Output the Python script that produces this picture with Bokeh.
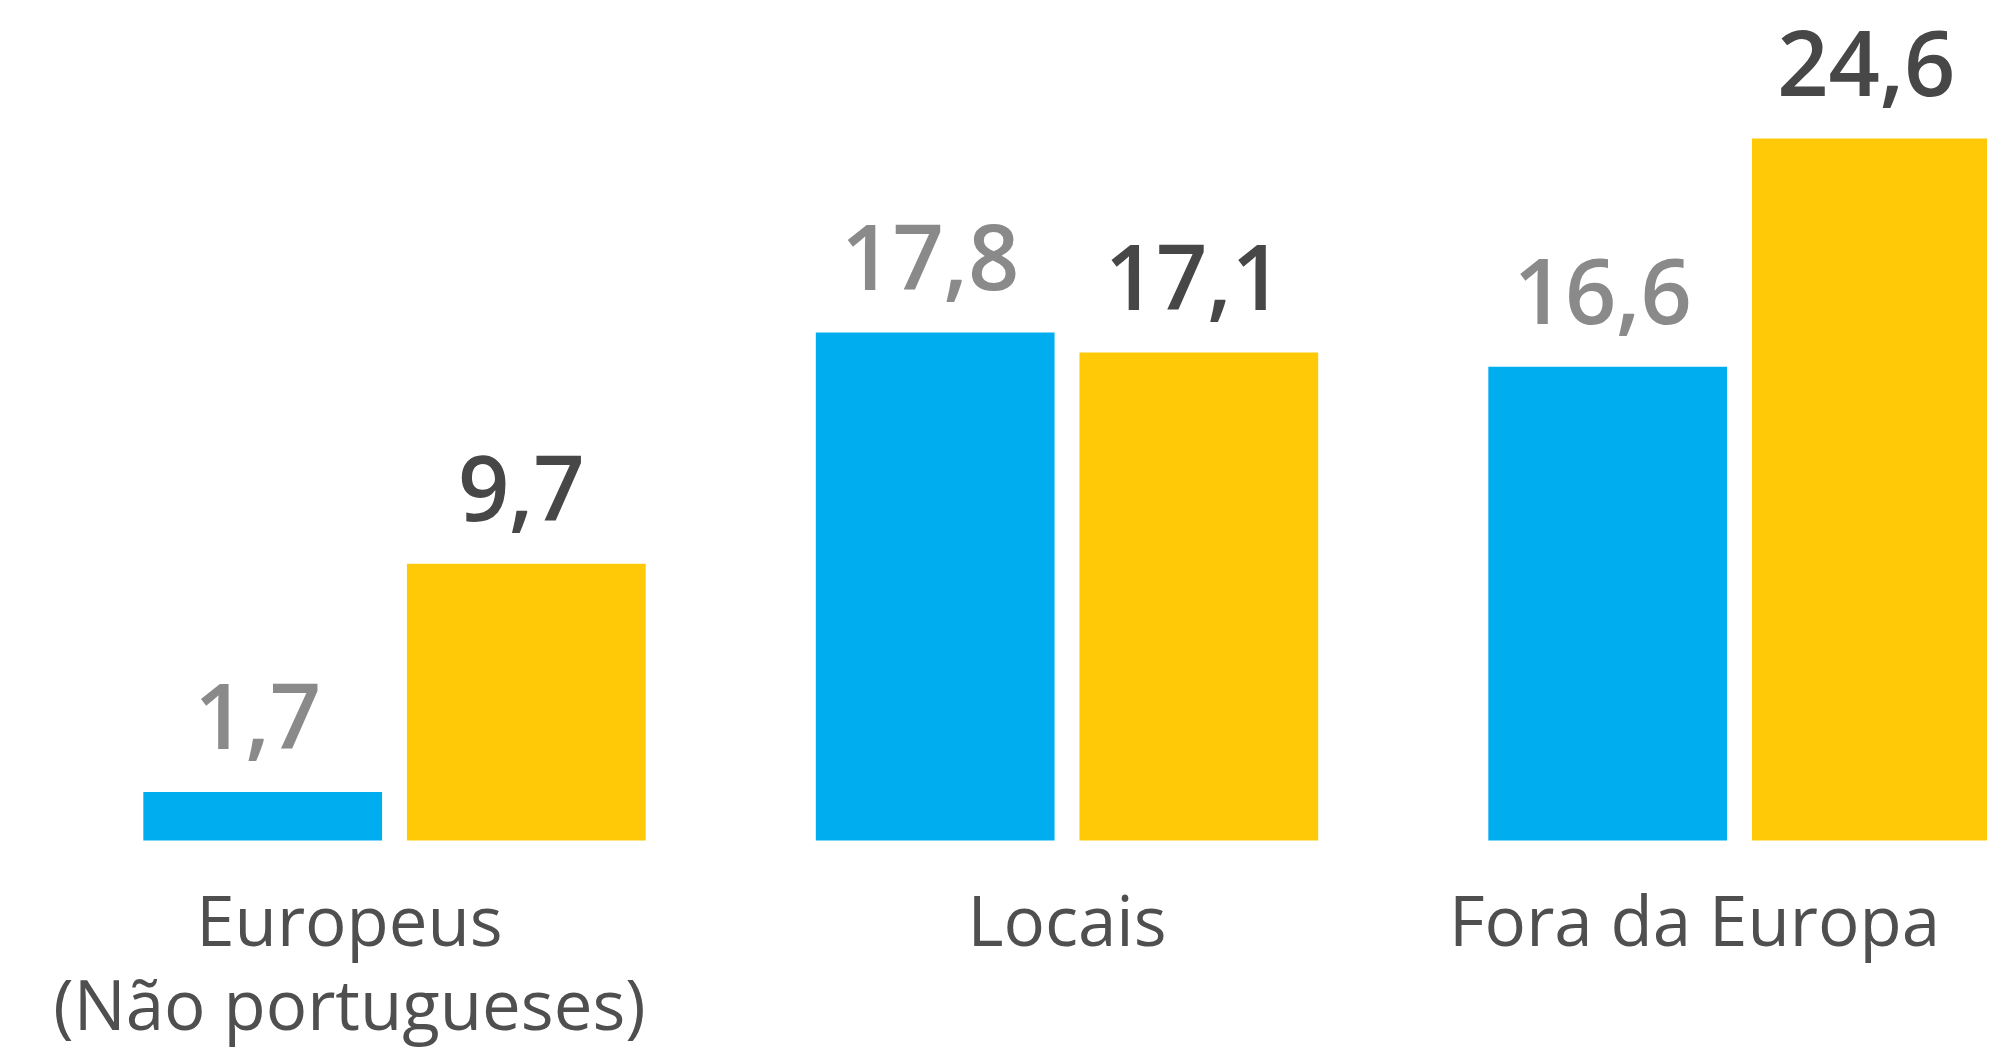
from bokeh.plotting import figure
from bokeh.models import ColumnDataSource, Range1d
from bokeh.transform import dodge
from bokeh.core.properties import value
from bokeh.embed import file_html
from bokeh.resources import INLINE

# ---- data ----
categories = ["Europeus\n(Não portugueses)", "Locais", "Fora da Europa"]
series_blue = [1.7, 17.8, 16.6]
series_yellow = [9.7, 17.1, 24.6]

# ---- styling ----
BLUE = "#00AEEF"
YELLOW = "#FFC907"
GREY_LABEL = "#8A8A8A"
DARK_LABEL = "#474747"
CAT_COLOR = "#4F4F4F"
FONT = "Open Sans"
FONT_SEMI = "Open Sans SemiBold"
BAR_W = 0.355
OFF = 0.196
cat_nudge = [-45, 0, -45]  # label x offsets in px

def fmt(v):
    return f"{v:.1f}".replace(".", ",")

src = ColumnDataSource(dict(
    x=list(range(len(categories))),
    cat=categories,
    blue=series_blue,
    yellow=series_yellow,
    blue_lbl=[fmt(v) for v in series_blue],
    yellow_lbl=[fmt(v) for v in series_yellow],
    zero=[0] * len(categories),
    nudge=cat_nudge,
))

W, H = 1987, 1051
px_per_unit_x = 672.5
x0 = -394 / px_per_unit_x
px_per_unit_y = 28.54
base_px = 840
y_top = base_px / px_per_unit_y
y_bot = -(H - base_px) / px_per_unit_y

p = figure(width=W, height=H, output_backend="svg", toolbar_location=None,
           x_range=Range1d(x0, x0 + W / px_per_unit_x),
           y_range=Range1d(y_bot, y_top), min_border=0)
p.axis.visible = False
p.grid.visible = False
p.outline_line_color = None
p.background_fill_color = "white"
p.border_fill_color = "white"

p.vbar(x=dodge("x", -OFF, range=p.x_range), top="blue", width=BAR_W,
       bottom=0, source=src, fill_color=BLUE, line_color=None)
p.vbar(x=dodge("x", OFF, range=p.x_range), top="yellow", width=BAR_W,
       bottom=0, source=src, fill_color=YELLOW, line_color=None)

p.text(x=dodge("x", -OFF, range=p.x_range), y="blue", text="blue_lbl",
       source=src, text_align="center", text_baseline="alphabetic",
       x_offset=-5, y_offset=-75, text_font=value(FONT_SEMI),
       text_font_size="90px", text_color=GREY_LABEL)
p.text(x=dodge("x", OFF, range=p.x_range), y="yellow", text="yellow_lbl",
       source=src, text_align="center", text_baseline="alphabetic",
       x_offset=-5, y_offset=-75, text_font=value(FONT_SEMI),
       text_font_size="90px", text_color=DARK_LABEL)

p.text(x="x", y="zero", text="cat", source=src, x_offset="nudge",
       y_offset=31, text_align="center", text_baseline="top",
       text_font=value(FONT), text_font_size="69px", text_color=CAT_COLOR,
       text_line_height=0.9)

open("out.html", "w").write(file_html(p, INLINE))
